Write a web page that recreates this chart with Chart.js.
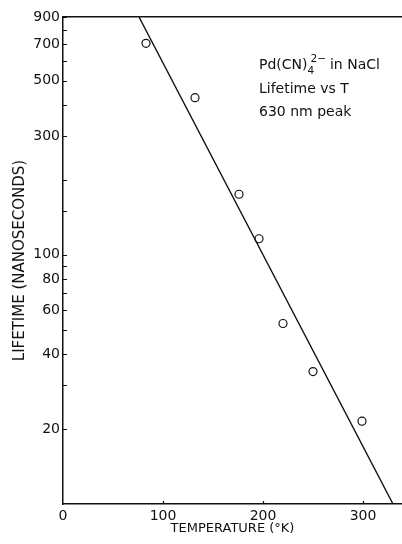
<!DOCTYPE html>
<html>
<head>
<meta charset="utf-8">
<script src="https://cdn.jsdelivr.net/npm/chart.js@4.4.1/dist/chart.umd.min.js"></script>
<style>
  html, body { margin: 0; padding: 0; background: #fff; overflow: hidden; }
  #wrap { width: 402px; height: 544px; }
  canvas { display: block; }
</style>
</head>
<body>
<div id="wrap"><canvas id="c" width="402" height="544"></canvas></div>
<script>
// ---- data ----
const temperatureK = [83, 132, 176, 196, 220, 250, 299];
const lifetimeNs   = [706, 427, 175, 116, 53, 34, 21.5];
const fitTemperatureK = [76, 330];
const fitLifetimeNs   = [900, 10];
const yLabeledTicks = [20, 40, 60, 80, 100, 300, 500, 700, 900];
const yMinorTicks   = [30, 50, 70, 90, 150, 200, 400, 600, 800];
const xTickValues   = [0, 100, 200, 300];
const xTitle = 'TEMPERATURE (°K)';
const yTitle = 'LIFETIME (NANOSECONDS)';

const FONT = '"DejaVu Sans", sans-serif';
const INK = '#111';

const pointData = temperatureK.map((t, i) => ({ x: t, y: lifetimeNs[i] }));
const fitData = fitTemperatureK.map((t, i) => ({ x: t, y: fitLifetimeNs[i] }));

const innerTicks = {
  id: 'innerTicks',
  afterDatasetsDraw(chart) {
    const ctx = chart.ctx;
    const xs = chart.scales.x, ys = chart.scales.y;
    const area = chart.chartArea;
    ctx.save();
    ctx.strokeStyle = INK;
    ctx.lineWidth = 1.2;
    ctx.beginPath();
    yLabeledTicks.concat(yMinorTicks).forEach(v => {
      const py = Math.round(ys.getPixelForValue(v)) + 0.5;
      ctx.moveTo(area.left, py);
      ctx.lineTo(area.left + 4, py);
    });
    xTickValues.filter(v => v > 0).forEach(v => {
      const px = Math.round(xs.getPixelForValue(v)) + 0.5;
      ctx.moveTo(px, area.bottom);
      ctx.lineTo(px, area.bottom - 3);
    });
    ctx.stroke();
    ctx.restore();
  }
};

const note = {
  id: 'note',
  afterDraw(chart) {
    const ctx = chart.ctx;
    ctx.save();
    ctx.fillStyle = INK;
    ctx.textBaseline = 'middle';
    ctx.textAlign = 'left';
    const x0 = 259;
    const big = '14px ' + FONT, small = '10.5px ' + FONT;
    let x = x0, y = 65;
    ctx.font = big; ctx.fillText('Pd(CN)', x, y); x += ctx.measureText('Pd(CN)').width;
    ctx.font = small; ctx.fillText('4', x, y + 6);
    ctx.fillText('2−', x + 3, y - 6); x += ctx.measureText('2−').width + 7;
    ctx.font = big; ctx.fillText('in NaCl', x, y);
    ctx.fillText('Lifetime vs T', x0, 89);
    ctx.fillText('630 nm peak', x0, 112);
    ctx.restore();
  }
};

function noSidePad(s) { s.paddingLeft = 0; s.paddingRight = 0; }

new Chart(document.getElementById('c'), {
  type: 'scatter',
  data: {
    datasets: [
      {
        label: 'fit',
        data: fitData,
        showLine: true,
        borderColor: INK,
        borderWidth: 1.4,
        pointRadius: 0,
        fill: false
      },
      {
        label: 'measured',
        data: pointData,
        showLine: false,
        pointStyle: 'circle',
        pointRadius: 4,
        pointBorderWidth: 1.2,
        pointBorderColor: INK,
        pointBackgroundColor: 'rgba(255,255,255,0)'
      }
    ]
  },
  options: {
    responsive: false,
    animation: false,
    devicePixelRatio: 1,
    layout: { autoPadding: false, padding: { top: 17, right: 0, left: 0, bottom: 0 } },
    plugins: { legend: { display: false }, tooltip: { enabled: false } },
    scales: {
      x: {
        type: 'linear',
        min: 0, max: 339,
        afterBuildTicks(s) { s.ticks = xTickValues.map(v => ({ value: v })); },
        afterFit(s) { s.height = 40; noSidePad(s); },
        grid: { display: false, drawTicks: false },
        border: { display: true, color: INK, width: 1.5 },
        ticks: { color: INK, font: { family: FONT, size: 14 }, padding: 4, maxRotation: 0 },
        title: { display: true, text: xTitle, color: INK, font: { family: FONT, size: 13 }, padding: { top: 0, bottom: 8 } }
      },
      xTop: {
        type: 'linear', position: 'top', min: 0, max: 339,
        afterBuildTicks(s) { s.ticks = []; },
        afterFit(s) { s.height = 0; noSidePad(s); },
        grid: { display: false, drawTicks: false },
        border: { display: true, color: INK, width: 1.5 },
        ticks: { display: false }
      },
      y: {
        type: 'logarithmic',
        min: 10, max: 900,
        afterBuildTicks(s) {
          s.ticks = yLabeledTicks.concat(yMinorTicks).sort((a, b) => a - b).map(v => ({ value: v }));
        },
        afterFit(s) { s.width = 63; s.paddingTop = 0; s.paddingBottom = 0; },
        grid: { display: false, drawTicks: false },
        border: { display: true, color: INK, width: 1.5 },
        ticks: {
          color: INK, font: { family: FONT, size: 14 }, padding: 3, autoSkip: false,
          callback: (v) => yLabeledTicks.includes(v) ? String(v) : ''
        },
        title: { display: true, text: yTitle, color: INK, font: { family: FONT, size: 15 }, padding: { top: 11, bottom: 0 } }
      }
    }
  },
  plugins: [innerTicks, note]
});
</script>
</body>
</html>
